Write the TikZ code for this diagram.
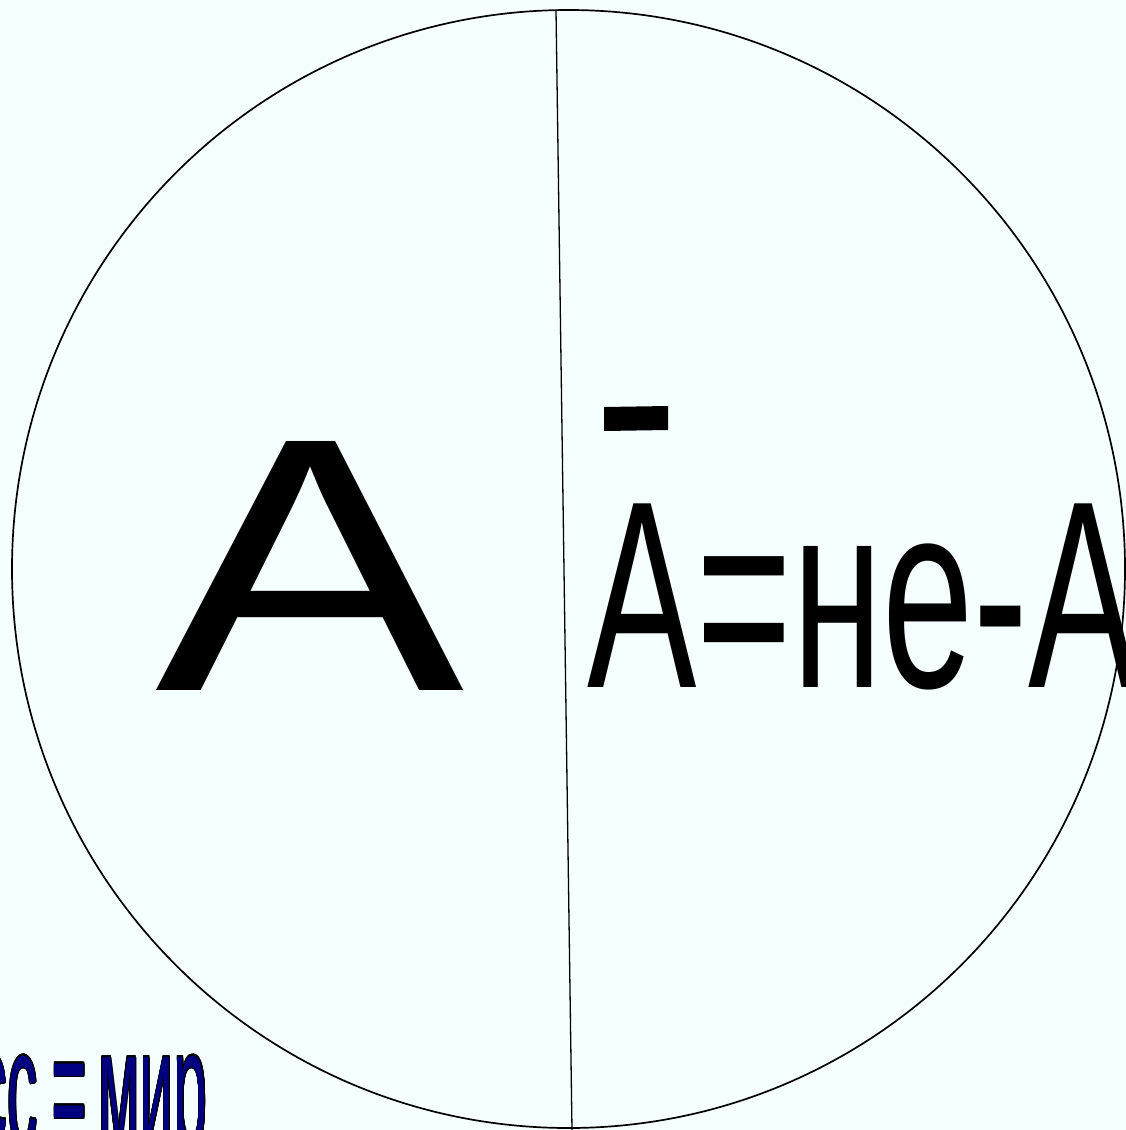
\documentclass[tikz,border=0pt]{standalone}
\usepackage{fontspec}
\setmainfont{Liberation Sans}
\usepackage[copies]{contour}
\definecolor{bgc}{HTML}{F5FFFF}
\definecolor{navyc}{HTML}{000080}
\newfontfamily\arialf{Liberation Sans}
\begin{document}
\begin{tikzpicture}[x=1pt,y=-1pt,
  bigletter/.style={inner sep=0pt, anchor=base west, font=\arialf\fontsize{362pt}{362pt}\selectfont},
  formula/.style={inner sep=0pt, anchor=base west, font=\arialf\fontsize{267pt}{267pt}\selectfont},
  worldtext/.style={inner sep=0pt, anchor=base east, font=\arialf\fontsize{168pt}{168pt}\selectfont},
  outline/.style={draw=black, line width=1.7pt}]
\fill[bgc] (0,0) rectangle (1126,1130);
\useasboundingbox (0,0) rectangle (1126,1130);
\draw[outline] (568.5,569) ellipse [x radius=556.5, y radius=559];
\coordinate (top) at (556,10);
\coordinate (bot) at (572,1130);
\draw[black, line width=1.3pt] (top) -- (bot);
\node[bigletter, xscale=1.28] (A) at (155,690) {A};
\node[formula, xscale=0.614] (notA) at (587,687) {A=не-А};
\fill[black] (604,407) -- (668,406) -- (668,430) -- (604,431) -- cycle;
\contourlength{1.8pt}
\node[worldtext, xscale=0.36] (world) at (207.5,1146) {\contour{black}{\textcolor{navyc}{сс\kern-8pt\ =\kern-15pt\ мир}}};
\end{tikzpicture}
\end{document}
